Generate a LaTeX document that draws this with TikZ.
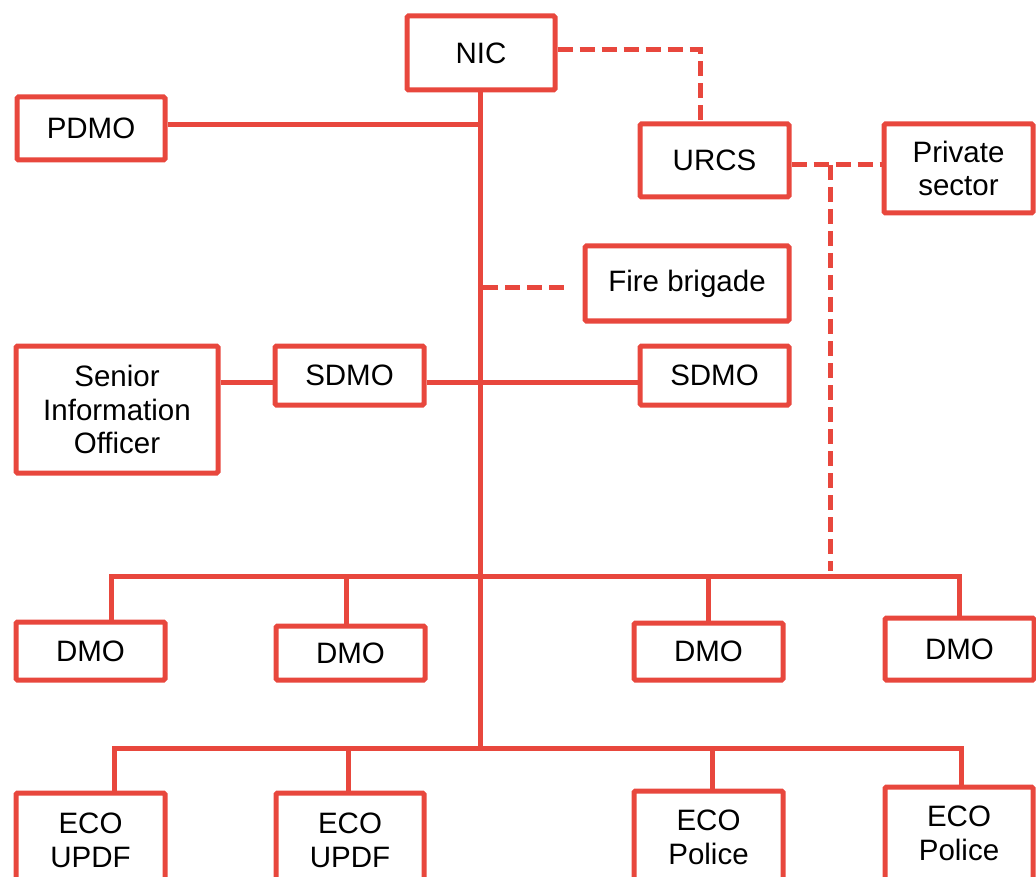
\documentclass[tikz,border=0pt]{standalone}
\usepackage{fontspec}
\setmainfont{Liberation Sans}
\definecolor{orgred}{RGB}{232,71,61}
\begin{document}
\begin{tikzpicture}[x=1pt,y=-1pt,
  orgbox/.style={draw=orgred, line width=5pt, rounded corners=1.5pt, inner sep=0pt,
    align=center, font=\fontsize{29.5}{33.5}\selectfont, fill=white},
  solidlink/.style={draw=orgred, line width=5pt},
  dashlink/.style={draw=orgred, line width=5pt, dash pattern=on 15pt off 7pt}]
\useasboundingbox (0,0) rectangle (1036,877);
\clip (0,0) rectangle (1036,877);
% boxes
\node[orgbox, minimum width=148pt, minimum height=74pt] (nic) at (481,53) {NIC};
\node[orgbox, minimum width=148pt, minimum height=63pt] (pdmo) at (91,128.5) {PDMO};
\node[orgbox, minimum width=149pt, minimum height=73pt] (urcs) at (714.5,160.5) {URCS};
\node[orgbox, minimum width=149pt, minimum height=89pt] (priv) at (958.5,168.5) {Private\\sector};
\node[orgbox, minimum width=204pt, minimum height=75pt] (fire) at (687,283.5) {Fire brigade};
\node[orgbox, minimum width=149pt, minimum height=59pt] (sdmoR) at (714.5,375.5) {SDMO};
\node[orgbox, minimum width=149pt, minimum height=59pt] (sdmoL) at (349.5,375.5) {SDMO};
\node[orgbox, minimum width=202pt, minimum height=127pt] (sio) at (117,409.5) {Senior\\Information\\Officer};
\node[orgbox, minimum width=149pt, minimum height=58pt] (dmo1) at (90.5,651) {DMO};
\node[orgbox, minimum width=149pt, minimum height=54pt] (dmo2) at (350.5,653) {DMO};
\node[orgbox, minimum width=149pt, minimum height=57pt] (dmo3) at (708.5,651.5) {DMO};
\node[orgbox, minimum width=149pt, minimum height=62pt] (dmo4) at (959.5,649) {DMO};
\node[orgbox, minimum width=149pt, minimum height=95pt] (eco1) at (90.5,840.5) {ECO\\UPDF};
\node[orgbox, minimum width=148pt, minimum height=95pt] (eco2) at (350,840.5) {ECO\\UPDF};
\node[orgbox, minimum width=149pt, minimum height=93pt] (eco3) at (708.5,837.5) {ECO\\Police};
\node[orgbox, minimum width=148pt, minimum height=93pt] (eco4) at (959,833.5) {ECO\\Police};
% helper coordinates
\coordinate (tb) at (480,748);
\coordinate (db) at (480,576);
\coordinate (srow) at (480,382);
\coordinate (fireend) at (570,288);
\coordinate (pj) at (830,165);
\coordinate (pjend) at (830,571);
% trunk
\draw[solidlink] (nic.south -| tb) -- (tb);
\draw[solidlink] ([yshift=3.5pt]pdmo.east) -- ([yshift=3.5pt]pdmo.east -| tb);
% SDMO row
\draw[solidlink] (sio.east |- srow) -- (sdmoL.west |- srow);
\draw[solidlink] (sdmoL.east |- srow) -- (sdmoR.west |- srow);
% dashed links
\draw[dashlink] ([yshift=3pt]nic.east) -| ([xshift=-14.5pt]urcs.north);
\draw[dashlink] (urcs.east |- pj) -- (priv.west |- pj);
\draw[dashlink] (pj) -- (pjend);
\draw[dashlink] ([xshift=3pt]fireend -| tb) -- (fireend);
% DMO bus
\draw[solidlink] ([xshift=20.5pt]dmo1.north) |- (db) -| (dmo4.north);
\draw[solidlink] ([xshift=-4.5pt]dmo2.north) -- ([xshift=-4.5pt]dmo2.north |- db);
\draw[solidlink] (dmo3.north) -- (dmo3.north |- db);
% ECO bus
\draw[solidlink] ([xshift=23.5pt]eco1.north) |- (tb) -| ([xshift=2pt]eco4.north);
\draw[solidlink] ([xshift=-2pt]eco2.north) -- ([xshift=-2pt]eco2.north |- tb);
\draw[solidlink] ([xshift=3.5pt]eco3.north) -- ([xshift=3.5pt]eco3.north |- tb);
\end{tikzpicture}
\end{document}
